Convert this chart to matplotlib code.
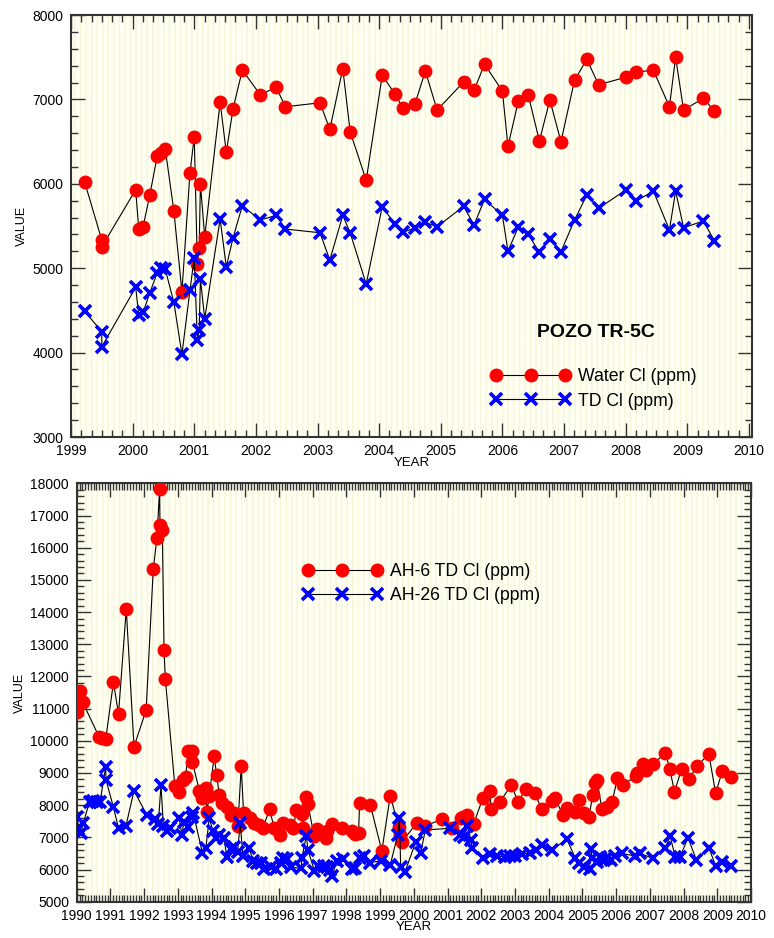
import numpy as np
import matplotlib
matplotlib.use("Agg")
import matplotlib.pyplot as plt
from matplotlib.ticker import MultipleLocator
from matplotlib.patches import Rectangle

# ---- POZO TR-5C (top panel) ----
tr5c_year = [1999.22, 1999.50, 1999.50, 2000.05, 2000.10, 2000.17, 2000.28, 2000.40, 2000.46, 2000.53,
             2000.67, 2000.80, 2000.93, 2001.00, 2001.05, 2001.08, 2001.10, 2001.17, 2001.42, 2001.52,
             2001.63, 2001.78, 2002.07, 2002.33, 2002.48, 2003.04, 2003.20, 2003.41, 2003.53, 2003.79,
             2004.05, 2004.26, 2004.39, 2004.58, 2004.75, 2004.94, 2005.37, 2005.54, 2005.71, 2006.00,
             2006.09, 2006.26, 2006.42, 2006.60, 2006.77, 2006.95, 2007.17, 2007.37, 2007.56, 2008.00,
             2008.17, 2008.45, 2008.71, 2008.81, 2008.94, 2009.26, 2009.44]
water_cl = [6025, 5334, 5254, 5930, 5460, 5492, 5870, 6330, 6361, 6412,
            5674, 4721, 6124, 6558, 5050, 5235, 5994, 5373, 6966, 6373,
            6890, 7348, 7056, 7143, 6913, 6960, 6645, 7364, 6617, 6041,
            7285, 7060, 6894, 6945, 7336, 6874, 7206, 7108, 7416, 7099,
            6444, 6985, 7052, 6507, 6993, 6499, 7226, 7475, 7174, 7262,
            7325, 7345, 6913, 7499, 6874, 7013, 6862]
td_cl = [4492, 4247, 4069, 4774, 4442, 4477, 4710, 4946, 5005, 4986,
         4595, 3979, 4736, 5124, 4149, 4267, 4872, 4401, 5583, 5017,
         5361, 5740, 5571, 5626, 5464, 5420, 5097, 5626, 5420, 4812,
         5728, 5520, 5425, 5480, 5543, 5491, 5733, 5512, 5816, 5626,
         5203, 5491, 5401, 5188, 5346, 5195, 5571, 5867, 5709, 5926,
         5796, 5914, 5452, 5914, 5480, 5559, 5325]

# ---- AH-6 / AH-26 (bottom panel) ----
ah6_year = [1990.02, 1990.10, 1990.18, 1990.66, 1990.76, 1990.86, 1991.09, 1991.24, 1991.47, 1991.70,
            1992.06, 1992.27, 1992.38, 1992.46, 1992.47, 1992.54, 1992.59, 1992.63, 1992.91, 1993.04,
            1993.15, 1993.23, 1993.31, 1993.41, 1993.43, 1993.64, 1993.73, 1993.83, 1993.86, 1993.93,
            1994.08, 1994.15, 1994.23, 1994.32, 1994.45, 1994.57, 1994.67, 1994.78, 1994.88, 1994.95,
            1995.14, 1995.27, 1995.41, 1995.52, 1995.72, 1995.86, 1996.03, 1996.11, 1996.33, 1996.43,
            1996.51, 1996.68, 1996.71, 1996.81, 1996.86, 1997.04, 1997.12, 1997.40, 1997.42, 1997.57,
            1997.87, 1998.18, 1998.26, 1998.36, 1998.39, 1998.71, 1999.05, 1999.30, 1999.55, 1999.58,
            1999.65, 2000.08, 2000.33, 2000.83, 2001.13, 2001.41, 2001.47, 2001.59, 2001.77, 2002.05,
            2002.27, 2002.28, 2002.56, 2002.89, 2003.09, 2003.33, 2003.58, 2003.80, 2004.09, 2004.19,
            2004.42, 2004.54, 2004.79, 2004.91, 2005.04, 2005.19, 2005.31, 2005.36, 2005.43, 2005.58,
            2005.73, 2005.88, 2006.04, 2006.20, 2006.59, 2006.62, 2006.80, 2006.89, 2007.10, 2007.46,
            2007.59, 2007.73, 2007.94, 2008.16, 2008.40, 2008.75, 2008.95, 2009.15, 2009.42]
ah6_cl = [10885, 11558, 11195, 10129, 10077, 10046, 11817, 10833, 14095, 9818,
          10957, 15328, 16312, 17824, 16695, 16550, 12821, 11910, 8606, 8420,
          8782, 8886, 9683, 9694, 9341, 8440, 8213, 8523, 7798, 8285,
          9528, 8927, 8316, 8057, 7933, 7695, 7747, 7353, 9218, 7747,
          7591, 7457, 7384, 7281, 7871, 7281, 7074, 7457, 7384, 7281,
          7850, 7726, 7281, 8244, 8026, 7042, 7250, 6990, 7208, 7405,
          7281, 7208, 7104, 7125, 8057, 8005, 6576, 8296, 7332, 7074,
          6866, 7436, 7353, 7560, 7281, 7591, 7643, 7695, 7405, 8233,
          8440, 7871, 8109, 8627, 8109, 8513, 8368, 7871, 8130, 8213,
          7695, 7902, 7798, 8161, 7747, 7643, 8316, 8679, 8782, 7871,
          7954, 8109, 8834, 8627, 8906, 8989, 9269, 9093, 9269, 9631,
          9124, 8420, 9114, 8803, 9218, 9590, 8368, 9062, 8886]

ah26_year = [1990.02, 1990.05, 1990.12, 1990.20, 1990.38, 1990.49, 1990.59, 1990.69, 1990.86, 1990.87,
             1991.09, 1991.24, 1991.46, 1991.70, 1992.08, 1992.32, 1992.42, 1992.50, 1992.57, 1992.67,
             1992.77, 1993.04, 1993.12, 1993.18, 1993.31, 1993.41, 1993.46, 1993.73, 1993.83, 1993.93,
             1994.04, 1994.12, 1994.23, 1994.37, 1994.45, 1994.57, 1994.67, 1994.77, 1994.85, 1994.93,
             1995.12, 1995.22, 1995.34, 1995.46, 1995.56, 1995.77, 1995.92, 1996.06, 1996.11, 1996.23,
             1996.36, 1996.66, 1996.68, 1996.81, 1996.86, 1997.05, 1997.15, 1997.32, 1997.42, 1997.50,
             1997.57, 1997.72, 1997.89, 1998.16, 1998.26, 1998.39, 1998.51, 1998.71, 1999.04, 1999.30,
             1999.52, 1999.57, 1999.61, 1999.74, 2000.06, 2000.20, 2000.34, 2001.08, 2001.38, 2001.48,
             2001.58, 2001.70, 2001.72, 2002.05, 2002.25, 2002.47, 2002.71, 2002.86, 2003.01, 2003.20,
             2003.45, 2003.63, 2003.80, 2004.09, 2004.54, 2004.79, 2004.91, 2005.04, 2005.21, 2005.26,
             2005.28, 2005.43, 2005.51, 2005.63, 2005.73, 2005.86, 2005.98, 2006.16, 2006.55, 2006.70,
             2007.08, 2007.46, 2007.60, 2007.75, 2007.90, 2008.13, 2008.38, 2008.75, 2008.95, 2009.15,
             2009.42]
ah26_cl = [7643, 7250, 7125, 7457, 8109, 8140, 8109, 8088, 9197, 8782,
           7933, 7281, 7353, 8451, 7695, 7560, 7405, 8627, 7353, 7208,
           7301, 7591, 7074, 7488, 7332, 7643, 7747, 6504, 6659, 7591,
           7208, 6969, 7074, 6990, 6400, 6628, 6711, 6556, 7436, 6421,
           6680, 6276, 6214, 6214, 6007, 6089, 6017, 6193, 6349, 6318,
           6069, 6038, 6349, 7053, 6607, 5955, 6110, 6110, 6089, 5986,
           5800, 6276, 6318, 6017, 6038, 6349, 6431, 6214, 6276, 6141,
           7074, 7612, 6089, 5934, 6866, 6504, 7229, 7281, 7074, 7022,
           7353, 6918, 6659, 6349, 6473, 6421, 6400, 6421, 6421, 6473,
           6525, 6607, 6763, 6607, 6939, 6349, 6193, 6089, 6007, 6628,
           6349, 6245, 6400, 6297, 6349, 6297, 6421, 6504, 6421, 6504,
           6349, 6680, 7043, 6400, 6400, 6990, 6297, 6680, 6110, 6245,
           6110]

plt.rcParams["font.family"] = ["Liberation Sans", "DejaVu Sans"]

RED = "#ff0000"
BLUE = "#0000ff"


def style_axes(ax, xminor, yminor):
    ax.set_facecolor("#fffff2")
    # faint vertical stripes like the original background
    ax.add_patch(Rectangle((0, 0), 1, 1, transform=ax.transAxes, facecolor="none",
                           edgecolor="#f5f5da", hatch="|||", linewidth=0, zorder=0))
    ax.xaxis.set_major_locator(MultipleLocator(1))
    ax.xaxis.set_minor_locator(MultipleLocator(xminor))
    ax.yaxis.set_major_locator(MultipleLocator(1000))
    ax.yaxis.set_minor_locator(MultipleLocator(yminor))
    ax.tick_params(which="both", direction="in", top=True, right=True, labelsize=10,
                   color="#333333")
    ax.tick_params(axis="x", which="both", pad=5)
    ax.tick_params(axis="y", which="both", pad=5.5)
    ax.tick_params(which="major", length=10, width=1)
    ax.tick_params(which="minor", length=5, width=1)
    for s in ax.spines.values():
        s.set_linewidth(1.5)
        s.set_color("#333333")
    ax.set_xlabel("YEAR", fontsize=9.5, labelpad=-1)
    ax.set_ylabel("VALUE", fontsize=9, labelpad=3)


fig = plt.figure(figsize=(7.74, 9.38), dpi=100)

ax1 = fig.add_axes([0.0917, 0.5341, 0.8799, 0.4499])
style_axes(ax1, 1 / 6, 200)
ax1.plot(tr5c_year, water_cl, color="black", lw=0.8, marker="o", ms=9,
         mfc=RED, mec=RED, label="Water Cl (ppm)", zorder=3)
ax1.plot(tr5c_year, td_cl, color="black", lw=0.8, marker="x", ms=8, mew=2.6,
         mfc=BLUE, mec=BLUE, label="TD Cl (ppm)", zorder=3)
ax1.set_xlim(1999, 2010.05)
ax1.set_ylim(3000, 8000)
ax1.text(0.685, 0.248, "POZO TR-5C", transform=ax1.transAxes, fontsize=14,
         fontweight="bold", ha="left", va="center")
ax1.legend(loc="upper left", bbox_to_anchor=(0.617, 0.163), numpoints=3, frameon=False,
           fontsize=12.7, handlelength=4.5, handletextpad=0.45, labelspacing=0.42,
           borderpad=0, borderaxespad=0)

ax2 = fig.add_axes([0.0991, 0.0387, 0.8712, 0.4460])
style_axes(ax2, 1 / 12, 200)
ax2.plot(ah6_year, ah6_cl, color="black", lw=0.8, marker="o", ms=9,
         mfc=RED, mec=RED, label="AH-6 TD Cl (ppm)", zorder=3)
ax2.plot(ah26_year, ah26_cl, color="black", lw=0.8, marker="x", ms=8, mew=2.6,
         mfc=BLUE, mec=BLUE, label="AH-26 TD Cl (ppm)", zorder=3)
ax2.set_xlim(1990, 2010)
ax2.set_ylim(5000, 18000)
ax2.legend(loc="upper left", bbox_to_anchor=(0.335, 0.81), numpoints=3, frameon=False,
           fontsize=12.7, handlelength=4.5, handletextpad=0.45, labelspacing=0.42,
           borderpad=0, borderaxespad=0)

fig.savefig("out.png", dpi=100)
